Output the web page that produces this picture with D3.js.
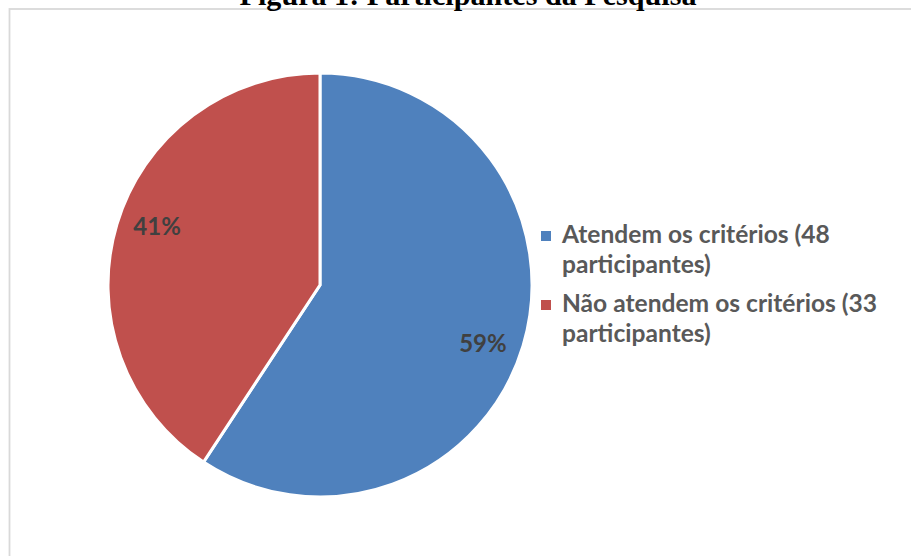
<!DOCTYPE html>
<html>
<head>
<meta charset="utf-8">
<script src="https://cdn.jsdelivr.net/npm/d3@7"></script>
<style>
  html, body { margin: 0; padding: 0; background: #ffffff; }
  svg { display: block; }
</style>
</head>
<body>
<svg id="chart" width="911" height="556"></svg>
<script>
// Participants who meet / do not meet the criteria
const categories = ["Atendem os critérios", "Não atendem os critérios"];
const counts = [48, 33];
const legendLines = [
  ["Atendem os critérios (48", "participantes)"],
  ["Não atendem os critérios (33", "participantes)"]
];
const colors = ["#4F81BD", "#C0504D"];
const titleText = "Figura 1: Participantes da Pesquisa";

const svg = d3.select("#chart");
const W = 911, H = 556;
const sansFont = "Lato, 'Open Sans', sans-serif";

// chart area frame
svg.append("rect")
  .attr("x", 9.5).attr("y", 9)
  .attr("width", W + 20).attr("height", H + 20)
  .attr("fill", "none")
  .attr("stroke", "#d9d9d9")
  .attr("stroke-width", 1.8);

// title (partly above the frame)
const title = svg.append("text")
  .attr("x", 468).attr("y", 5)
  .attr("text-anchor", "middle")
  .attr("font-family", "'Liberation Serif', 'Times New Roman', serif")
  .attr("font-weight", "bold")
  .attr("font-size", 26)
  .attr("fill", "#000")
  .text(titleText);
const tw = title.node().getComputedTextLength();
title.attr("font-size", 26 * 457 / tw);

// pie
const cx = 320, cy = 285, r = 212;
const total = d3.sum(counts);
const pie = d3.pie().sort(null).value(d => d)(counts);
const arc = d3.arc().innerRadius(0).outerRadius(r);

const g = svg.append("g").attr("transform", `translate(${cx},${cy})`);
g.selectAll("path.slice")
  .data(pie)
  .join("path")
  .attr("class", "slice")
  .attr("d", arc)
  .attr("fill", (d, i) => colors[i])
  .attr("stroke", "#ffffff")
  .attr("stroke-width", 3)
  .attr("stroke-linejoin", "miter");

// percentage labels, placed slightly clockwise of each slice's middle
const labelR = r * 0.816;
const labelTurn = 0.052;
const labelPos = d => {
  const a = (d.startAngle + d.endAngle) / 2 + labelTurn;
  return [labelR * Math.sin(a), -labelR * Math.cos(a)];
};
g.selectAll("text.pct")
  .data(pie)
  .join("text")
  .attr("class", "pct")
  .attr("x", d => labelPos(d)[0])
  .attr("y", d => labelPos(d)[1])
  .attr("dy", "0.35em")
  .attr("text-anchor", "middle")
  .attr("font-family", sansFont)
  .attr("font-weight", "bold")
  .attr("font-size", 24)
  .attr("fill", "#404040")
  .text(d => Math.round(d.value / total * 100) + "%");

// legend
const legend = svg.append("g");
const entryY = [243, 312];
const lineGap = 30;
let legendSize = 22;
const legendTexts = [];
legendLines.forEach((lines, i) => {
  legend.append("rect")
    .attr("x", 541).attr("y", entryY[i] - 12)
    .attr("width", 10).attr("height", 10)
    .attr("fill", colors[i]);
  const t = legend.append("text")
    .attr("x", 562).attr("y", entryY[i])
    .attr("font-family", sansFont)
    .attr("font-weight", "bold")
    .attr("font-size", legendSize)
    .attr("fill", "#595959");
  lines.forEach((ln, j) => {
    t.append("tspan")
      .attr("x", 562)
      .attr("y", entryY[i] + j * lineGap)
      .text(ln);
  });
  legendTexts.push(t);
});
// size the legend font so the first line spans about 268px
const firstLine = legendTexts[0].select("tspan").node().getComputedTextLength();
legendSize = legendSize * 268 / firstLine;
legendTexts.forEach(t => t.attr("font-size", legendSize));
</script>
</body>
</html>
